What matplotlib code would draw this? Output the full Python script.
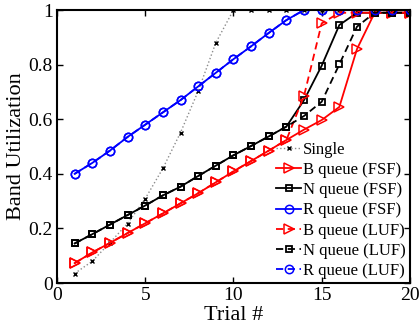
import matplotlib
matplotlib.use("Agg")
import matplotlib.pyplot as plt

trials = list(range(1, 21))
single = [0.035, 0.08, 0.148, 0.218, 0.309, 0.42, 0.551, 0.703, 0.88, 1.0,
          1.0, 1.0, 1.0, 1.0, 1.0, 1.0, 1.0, 1.0, 1.0, 1.0]
b_fsf = [0.073, 0.112, 0.147, 0.183, 0.219, 0.255, 0.292, 0.329, 0.369, 0.409,
         0.447, 0.485, 0.524, 0.562, 0.597, 0.645, 0.857, 0.99, 0.99, 0.99]
n_fsf = [0.145, 0.179, 0.214, 0.249, 0.284, 0.321, 0.353, 0.392, 0.43, 0.468,
         0.502, 0.537, 0.573, 0.670, 0.796, 0.945, 0.99, 0.99, 0.99, 0.99]
r_fsf = [0.40, 0.44, 0.485, 0.535, 0.58, 0.625, 0.67, 0.72, 0.77, 0.82,
         0.867, 0.916, 0.963, 1.0, 1.0, 1.0, 1.0, 1.0, 1.0, 1.0]
b_luf = [0.073, 0.112, 0.147, 0.183, 0.219, 0.255, 0.292, 0.329, 0.369, 0.409,
         0.447, 0.485, 0.524, 0.686, 0.951, 0.99, 0.99, 0.99, 0.99, 0.99]
n_luf = [0.145, 0.179, 0.214, 0.249, 0.284, 0.321, 0.353, 0.392, 0.43, 0.468,
         0.502, 0.537, 0.573, 0.612, 0.664, 0.801, 0.939, 0.99, 0.99, 0.99]
r_luf = [0.40, 0.44, 0.485, 0.535, 0.58, 0.625, 0.67, 0.72, 0.77, 0.82,
         0.867, 0.916, 0.963, 1.0, 1.0, 1.0, 1.0, 1.0, 1.0, 1.0]

labels = ["Single", "B queue (FSF)", "N queue (FSF)", "R queue (FSF)",
          "B queue (LUF)", "N queue (LUF)", "R queue (LUF)"]
xticks = [0, 5, 10, 15, 20]
yticks = [0, 0.2, 0.4, 0.6, 0.8, 1]

plt.rcParams['font.family'] = ['Liberation Serif', 'DejaVu Serif']

fig = plt.figure(figsize=(4.2, 3.28), dpi=100)
ax = fig.add_axes([0.1357, 0.137, 0.976 - 0.1357, 0.9695 - 0.137])

lw = 1.3
ax.plot(trials, single, linestyle=':', color='0.55', lw=1.0, marker='x',
        markersize=3.5, markeredgecolor='k', markeredgewidth=1.0, label=labels[0])
ax.plot(trials, b_fsf, '-', color='r', lw=lw, marker='>', markersize=6.5,
        markerfacecolor='none', markeredgewidth=1.1, label=labels[1])
ax.plot(trials, n_fsf, '-', color='k', lw=lw, marker='s', markersize=4.5,
        markerfacecolor='none', markeredgewidth=1.3, label=labels[2])
ax.plot(trials, r_fsf, '-', color='b', lw=lw, marker='o', markersize=6,
        markerfacecolor='none', markeredgewidth=1.1, label=labels[3])
ax.plot(trials, b_luf, '--', color='r', lw=lw, marker='>', markersize=6.5,
        markerfacecolor='none', markeredgewidth=1.1, label=labels[4], dashes=(4, 2.5))
ax.plot(trials, n_luf, '--', color='k', lw=lw, marker='s', markersize=4.5,
        markerfacecolor='none', markeredgewidth=1.3, label=labels[5], dashes=(4, 2.5))
ax.plot(trials, r_luf, '--', color='b', lw=lw, marker='o', markersize=6,
        markerfacecolor='none', markeredgewidth=1.1, label=labels[6], dashes=(4, 2.5))

ax.set_xlim(0, 20)
ax.set_ylim(0, 1)
ax.set_xticks(xticks)
ax.set_yticks(yticks)
ax.set_yticklabels(["0", "0.2", "0.4", "0.6", "0.8", "1"])
ax.tick_params(direction='in', top=True, right=True, labelsize=14, length=4,
               width=1.0, pad=3)
for s in ax.spines.values():
    s.set_linewidth(1.5)

ax.set_xlabel("Trial #", fontsize=16, labelpad=1)
ax.set_ylabel("Band Utilization", fontsize=16, labelpad=2)

leg = ax.legend(loc='lower right', bbox_to_anchor=(1.0, 0.0), frameon=False,
                fontsize=12, handlelength=1.5, handletextpad=0.1,
                labelspacing=0.25, borderaxespad=0.05, borderpad=0.2)

fig.savefig("out.png", dpi=100)
